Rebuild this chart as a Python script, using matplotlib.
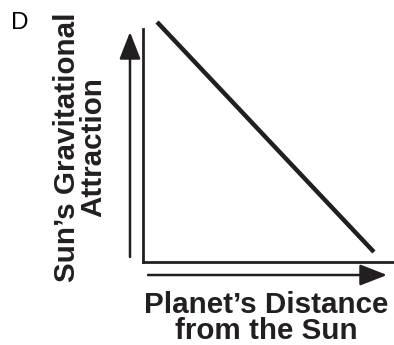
import matplotlib
matplotlib.use('Agg')
import matplotlib.pyplot as plt

# distancia vs atraccion (relacion inversa, esquema)
distancia = [0.056, 0.92]
atraccion = [1.03, 0.043]

etiqueta_x = 'Planet\u2019s Distance\nfrom the Sun'
etiqueta_y = 'Sun\u2019s Gravitational\nAttraction'
letra_panel = 'D'

tinta = '#231f20'
plt.rcParams['font.family'] = ['Liberation Sans', 'DejaVu Sans']

fig = plt.figure(figsize=(3.94, 3.45), dpi=100)
ax = fig.add_axes([143 / 394, 83 / 345, 251 / 394, 233 / 345])
ax.set_xlim(0, 1)
ax.set_ylim(0, 1)
ax.plot(distancia, atraccion, color=tinta, lw=3.2, solid_capstyle='butt', clip_on=False)

for lado in ['top', 'right']:
    ax.spines[lado].set_visible(False)
for lado in ['left', 'bottom']:
    ax.spines[lado].set_linewidth(2.0)
    ax.spines[lado].set_color(tinta)
ax.set_xticks([])
ax.set_yticks([])

# flechas de los ejes
estilo = dict(arrowstyle='-|>,head_length=1.66,head_width=0.65', mutation_scale=10,
              color=tinta, lw=1.8, shrinkA=0, shrinkB=0)
ax.annotate('', xy=(130, 313), xytext=(130, 88), xycoords='figure pixels',
            textcoords='figure pixels', arrowprops=estilo)
ax.annotate('', xy=(387, 70), xytext=(148, 70), xycoords='figure pixels',
            textcoords='figure pixels', arrowprops=estilo)

fig.text(266 / 394, 1 - 291 / 345, etiqueta_x, ha='center', va='top', fontsize=21.3,
         fontweight='bold', color=tinta, linespacing=0.92)
fig.text(80 / 394, 1 - 147 / 345, etiqueta_y, ha='center', va='center', rotation=90,
         fontsize=21.3, fontweight='bold', color=tinta, linespacing=0.92)
fig.text(11 / 394, 1 - 29 / 345, letra_panel, ha='left', va='baseline', fontsize=17.5, color='black')

fig.savefig('out.png', dpi=100)
